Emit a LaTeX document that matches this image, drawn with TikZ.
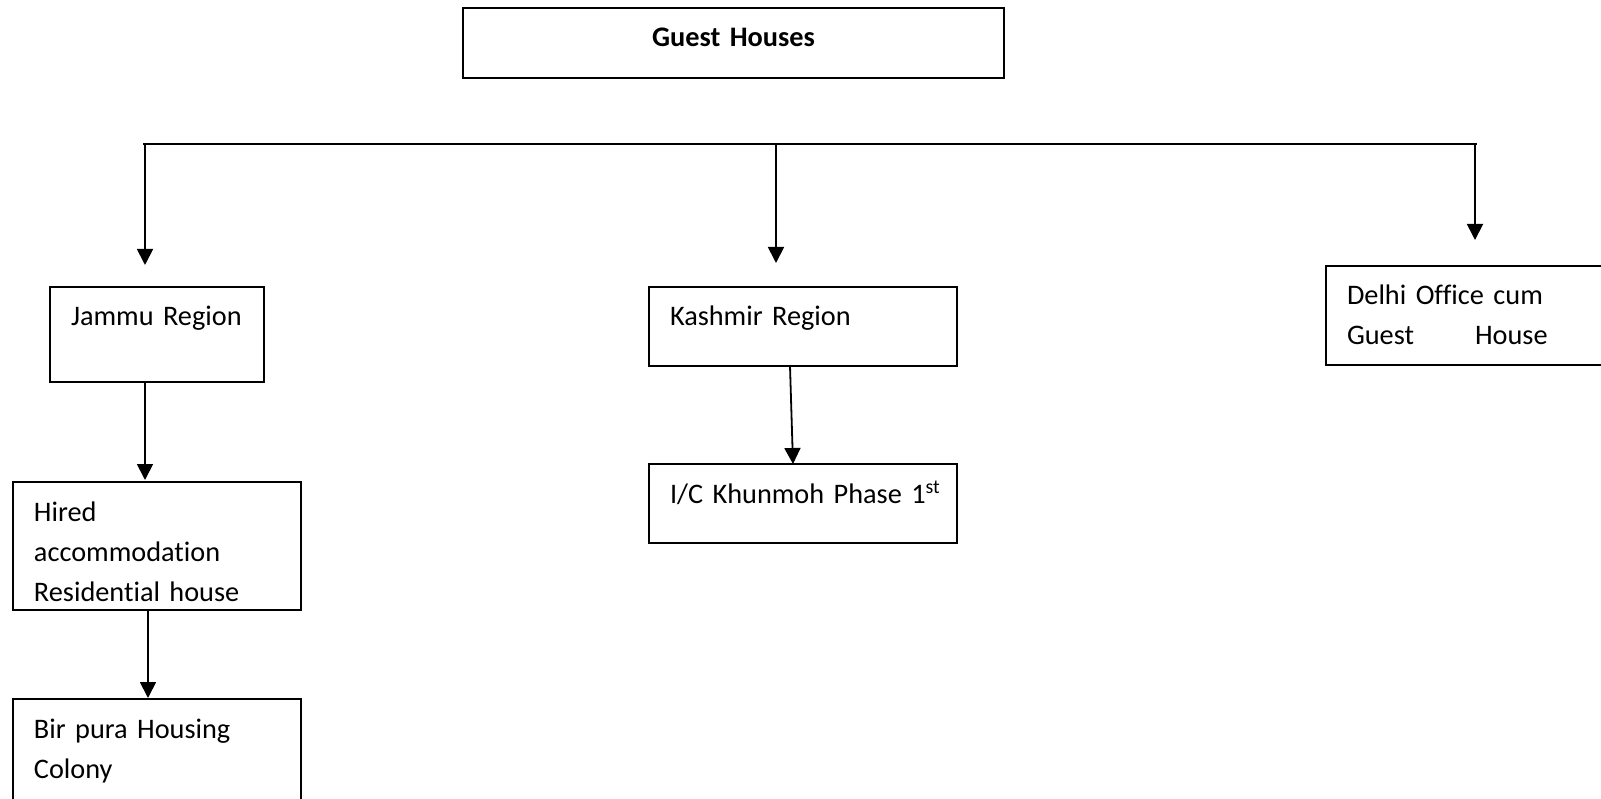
\documentclass[tikz,border=0pt]{standalone}
\usepackage{fontspec}
\setmainfont{Carlito}[Ligatures={NoCommon}]
\usetikzlibrary{arrows.meta}

\newcommand{\boxfont}{\fontsize{28.3}{40}\selectfont}

\tikzset{
  gbox/.style={draw, line width=1.8pt, anchor=north west, outer sep=0pt,
    inner xsep=21pt, inner ysep=0pt, align=left, text height=39pt, font=\boxfont},
  garrow/.style={line width=1.8pt, -{Triangle[width=16pt,length=16pt]}}
}

\begin{document}
\begin{tikzpicture}[x=1pt, y=-1pt]
    \useasboundingbox (0,0) rectangle (1601,799);
    \clip (0,0) rectangle (1601,799);
    % boxes
    \node[gbox, align=center, text width=499pt, text depth=31pt, font=\boxfont\bfseries] (guest) at (463,8) {Guest Houses};
    \node[gbox, text width=172pt, text depth=56pt] (jammu) at (50,287) {Jammu Region};
    \node[gbox, text width=266pt, text depth=40pt] (kashmir) at (649,287) {Kashmir Region};
    \node[gbox, text width=258pt, text depth=60pt] (delhi) at (1326,266) {Delhi Office cum\\Guest\hspace{61pt}House};
    \node[gbox, text width=246pt, text depth=89pt] (hired) at (13,482) {Hired\\accommodation\\Residential house};
    \node[gbox, text width=246pt, text depth=158pt] (birpura) at (13,699) {Bir pura Housing\\Colony};
    \node[gbox, text width=266pt, text depth=40pt] (khunmoh) at (649,464) {\mbox{I/C Khunmoh Phase 1\textsuperscript{st}}};
    % bus line
    \coordinate (busL) at (143,144);
    \coordinate (busR) at (1477,144);
    \coordinate (colJ) at (145,144);
    \coordinate (colK) at (776,144);
    \coordinate (colD) at (1475,144);
    \coordinate (colH) at (148,0);
    \draw[line width=1.8pt] (busL) -- (busR);
    % arrows
    \draw[garrow, shorten >=22pt] (colJ) -- (colJ |- jammu.north);
    \draw[garrow, shorten >=24pt] (colK) -- (colK |- kashmir.north);
    \draw[garrow, shorten >=26pt] (colD) -- (colD |- delhi.north);
    \draw[garrow, shorten >=2pt] (colJ |- jammu.south) -- (colJ |- hired.north);
    \draw[garrow, shorten >=1pt] (colH |- hired.south) -- (colH |- birpura.north);
    \draw[garrow] ([xshift=141pt]kashmir.south west) -- ([xshift=144pt]khunmoh.north west);
\end{tikzpicture}
\end{document}
